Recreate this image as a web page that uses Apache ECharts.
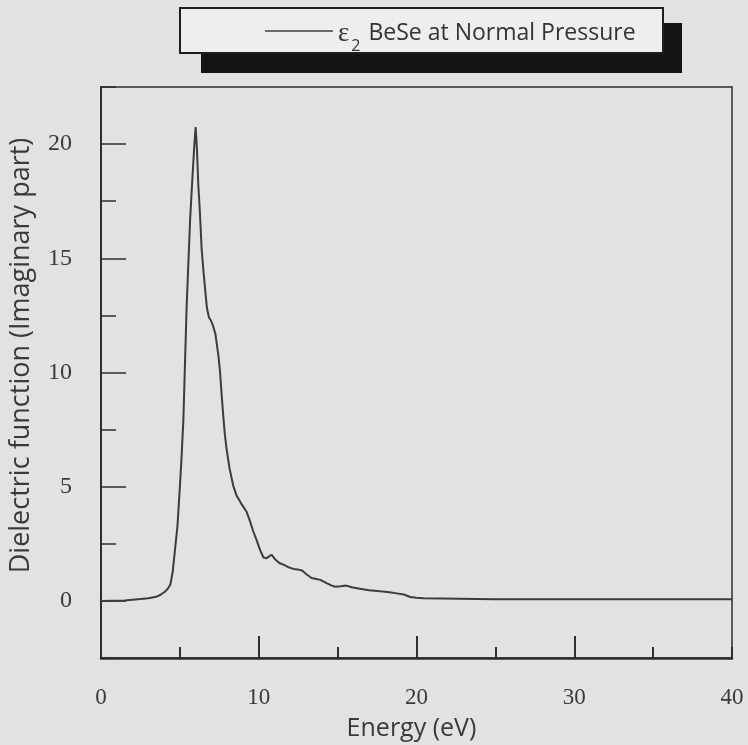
<!DOCTYPE html>
<html>
<head>
<meta charset="utf-8">
<script src="https://cdn.jsdelivr.net/npm/echarts@6/dist/echarts.min.js"></script>
<style>
html,body{margin:0;padding:0;background:#e2e2e2;}
#chart{width:748px;height:745px;}
</style>
</head>
<body>
<div id="chart"></div>
<script>
// ---- data ----
const seriesName = 'ε2 BeSe at Normal Pressure';
const energy = [0, 1.5, 2.5, 3.0, 3.5, 3.8, 4.05, 4.25, 4.4, 4.55, 4.7, 4.85, 5.0, 5.1, 5.22, 5.32, 5.43, 5.55, 5.65, 5.8, 5.92, 6.0,
  6.08, 6.17, 6.27, 6.38, 6.5, 6.62, 6.72, 6.85, 6.95, 7.1, 7.25, 7.35, 7.45, 7.55, 7.65, 7.75, 7.85, 7.96, 8.15, 8.38, 8.6, 8.9,
  9.23, 9.44, 9.65, 9.87, 10.1, 10.3, 10.5, 10.65, 10.82, 11.0, 11.3, 11.6, 11.9, 12.2, 12.5, 12.75, 13.0, 13.35, 13.65, 13.9,
  14.3, 14.6, 14.85, 15.2, 15.55, 15.9, 16.4, 17.0, 17.7, 18.3, 18.75, 19.2, 19.6, 20.0, 20.45, 20.55, 25, 30, 35, 40];
const eps2 = [0.0, 0.02, 0.08, 0.12, 0.18, 0.28, 0.4, 0.55, 0.72, 1.3, 2.3, 3.3, 5.0, 6.2, 7.9, 10.3, 12.9, 15.0, 16.7, 18.6, 20.0, 20.75,
  19.8, 18.2, 17.0, 15.4, 14.4, 13.5, 12.8, 12.4, 12.3, 12.05, 11.7, 11.2, 10.7, 10.0, 9.0, 8.1, 7.3, 6.65, 5.8, 5.05, 4.6, 4.25,
  3.9, 3.5, 3.05, 2.65, 2.2, 1.9, 1.87, 1.95, 2.02, 1.85, 1.66, 1.58, 1.47, 1.4, 1.37, 1.33, 1.18, 1.0, 0.96, 0.92,
  0.78, 0.68, 0.62, 0.64, 0.67, 0.6, 0.53, 0.47, 0.42, 0.38, 0.33, 0.28, 0.17, 0.14, 0.12, 0.07, 0.07, 0.07, 0.07, 0.07];
const xTickLabels = [0, 10, 20, 30, 40];
const xMajorTicks = [10, 20, 30];
const yTickLabels = [0, 5, 10, 15, 20];
const yMajorTicks = [0, 5, 10, 15, 20];
const xRange = [0, 40];
const yRange = [-2.5, 22.5];

const chart = echarts.init(document.getElementById('chart'), null, {renderer: 'canvas'});
const axisColor = '#2e2e2e';
const textColor = '#3a3a3a';
const gridPos = {left: 101, right: 16, top: 87, bottom: 87};

const option = {
  backgroundColor: '#e2e2e2',
  animation: false,
  graphic: [
    {type: 'rect', z: 0, shape: {x: 201, y: 23, width: 481, height: 50}, style: {fill: '#141414'}},
    {type: 'rect', z: 1, shape: {x: 180, y: 8, width: 483, height: 45}, style: {fill: '#eeeeee', stroke: '#1e1e1e', lineWidth: 2}}
  ],
  legend: {
    data: [{name: seriesName, icon: 'rect'}],
    left: 265, top: 12, padding: 0,
    itemWidth: 68, itemHeight: 1.5,
    itemStyle: {color: '#3c3c3c'},
    textStyle: {
      color: '#333',
      rich: {
        e: {fontFamily: 'Liberation Serif', fontSize: 27, lineHeight: 46, color: '#333', padding: [8, 0, 3, 0]},
        s: {fontFamily: 'Open Sans', fontSize: 16, lineHeight: 6, verticalAlign: 'bottom', color: '#333', padding: [0, 0, 0, 2]},
        t: {fontFamily: 'Open Sans', fontSize: 23, lineHeight: 46, color: '#333', padding: [8, 0, 3, 8]}
      }
    },
    formatter: function () { return '{e|ε}{s|2}{t|BeSe at Normal Pressure}'; }
  },
  grid: [
    Object.assign({show: true, borderColor: axisColor, borderWidth: 1.5, backgroundColor: 'transparent', outerBoundsMode: 'none', containLabel: false}, gridPos),
    Object.assign({show: false, outerBoundsMode: 'none', containLabel: false}, gridPos)
  ],
  xAxis: [
    {
      type: 'value', gridIndex: 0, min: xRange[0], max: xRange[1], interval: 5,
      name: 'Energy (eV)', nameLocation: 'middle', nameGap: 58,
      nameTextStyle: {fontFamily: 'Open Sans', fontSize: 25, color: textColor, padding: [0, 10, 0, 0]},
      axisLine: {show: true, onZero: false, lineStyle: {color: axisColor, width: 2.5}},
      axisTick: {show: true, inside: true, length: 11, lineStyle: {color: axisColor, width: 2}},
      axisLabel: {show: true, customValues: xTickLabels, margin: 28, fontFamily: 'Liberation Serif', fontSize: 23, color: textColor},
      splitLine: {show: false}
    },
    {
      type: 'value', gridIndex: 1, min: xRange[0], max: xRange[1],
      axisLine: {show: false, onZero: false},
      axisTick: {show: true, inside: true, length: 22, customValues: xMajorTicks, lineStyle: {color: axisColor, width: 2}},
      axisLabel: {show: false},
      splitLine: {show: false}
    }
  ],
  yAxis: [
    {
      type: 'value', gridIndex: 0, min: yRange[0], max: yRange[1], interval: 2.5,
      name: 'Dielectric function (Imaginary part)', nameLocation: 'middle', nameGap: 66,
      nameTextStyle: {fontFamily: 'Open Sans', fontSize: 27, color: textColor, padding: [0, 0, 0, 34]},
      axisLine: {show: true, onZero: false, lineStyle: {color: axisColor, width: 2}},
      axisTick: {show: true, inside: true, length: 15, lineStyle: {color: axisColor, width: 1.5}},
      axisLabel: {show: true, customValues: yTickLabels, margin: 29, fontFamily: 'Liberation Serif', fontSize: 24, color: textColor},
      splitLine: {show: false}
    },
    {
      type: 'value', gridIndex: 1, min: yRange[0], max: yRange[1],
      axisLine: {show: false, onZero: false},
      axisTick: {show: true, inside: true, length: 25, customValues: yMajorTicks, lineStyle: {color: axisColor, width: 1.5}},
      axisLabel: {show: false},
      splitLine: {show: false}
    }
  ],
  series: [
    {
      name: seriesName, type: 'line', xAxisIndex: 0, yAxisIndex: 0,
      showSymbol: false, symbol: 'none',
      lineStyle: {color: '#3c3c3c', width: 2},
      itemStyle: {color: '#3c3c3c'},
      data: energy.map((e, i) => [e, eps2[i]])
    }
  ]
};
chart.setOption(option);
</script>
</body>
</html>
